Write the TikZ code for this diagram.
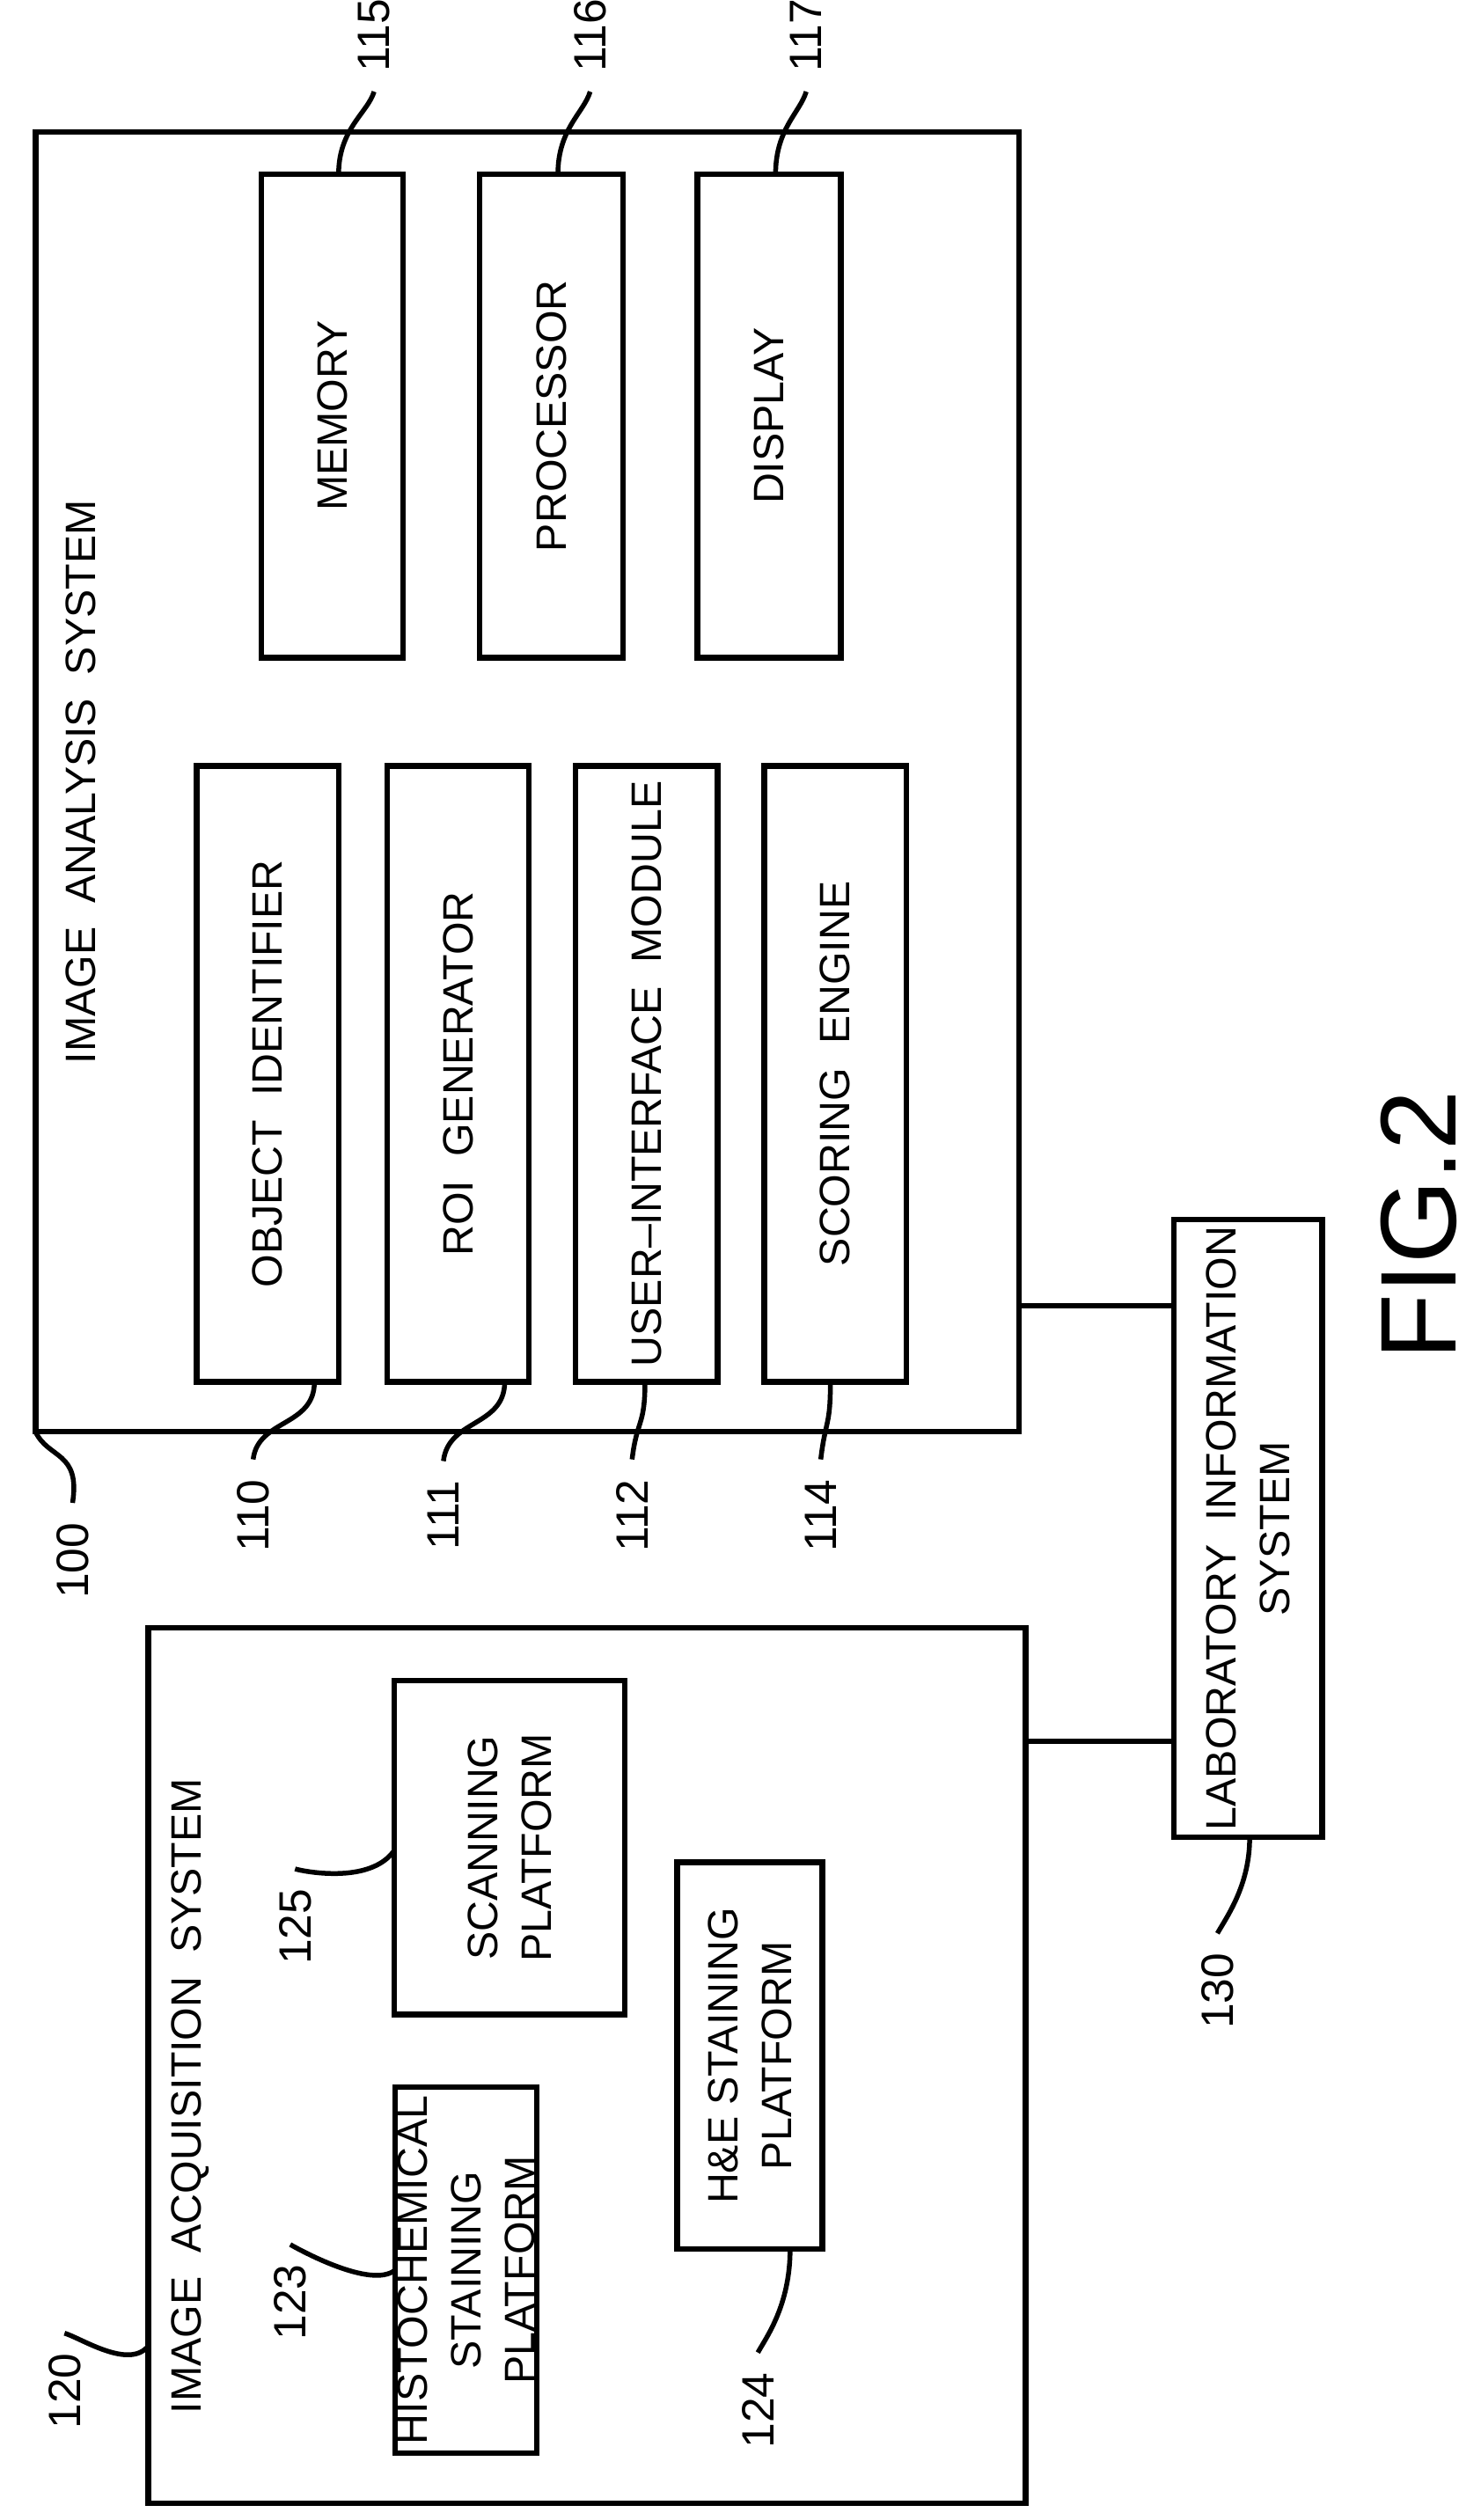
\documentclass[tikz,border=0pt]{standalone}
\usepackage{fontspec}
\setmainfont{Liberation Sans}
\begin{document}
\begin{tikzpicture}[x=0.1mm,y=-0.1mm,
 bx/.style={draw,line width=0.35mm,inner sep=0pt},
 t/.style={rotate=90,font=\fontsize{7.5}{9.5}\selectfont,align=center},
 lb/.style={rotate=90,font=\fontsize{8}{10}\selectfont},
 ld/.style={line width=0.3mm}]
\useasboundingbox (0,0) rectangle (918,1563);
% image analysis system
\node[bx,t,minimum width=80.6mm,minimum height=61mm] (ias) at (327,485) {};
\node[t] at (50,485) {IMAGE\ \ ANALYSIS\ \ SYSTEM};
\node[bx,t,minimum width=30mm,minimum height=8.8mm] (mem) at (206,258) {MEMORY};
\node[bx,t,minimum width=30mm,minimum height=8.9mm] (proc) at (342,258) {PROCESSOR};
\node[bx,t,minimum width=30mm,minimum height=8.9mm] (disp) at (477,258) {DISPLAY};
\node[bx,t,minimum width=38.2mm,minimum height=8.8mm] (obj) at (166,666) {OBJECT\ \ IDENTIFIER};
\node[bx,t,minimum width=38.2mm,minimum height=8.8mm] (roi) at (284,666) {ROI\ \ GENERATOR};
\node[bx,t,minimum width=38.2mm,minimum height=8.8mm] (ui) at (401,666) {USER--INTERFACE\ \ MODULE};
\node[bx,t,minimum width=38.2mm,minimum height=8.8mm] (sc) at (518,666) {SCORING\ \ ENGINE};
% acquisition
\node[bx,t,minimum width=54.3mm,minimum height=54.4mm] (iacq) at (364,1281) {};
\node[t] at (118,1300) {IMAGE\ \ ACQUISITION\ \ SYSTEM};
\node[bx,t,minimum width=22.7mm,minimum height=8.8mm] (hist) at (289,1408) {HISTOCHEMICAL\\STAINING\\PLATFORM};
\node[bx,t,minimum width=20.7mm,minimum height=14.3mm] (scan) at (316,1146) {SCANNING\\PLATFORM};
\node[bx,t,minimum width=24mm,minimum height=9mm] (he) at (465,1275) {H\&E\ STAINING\\PLATFORM};
% LIS
\node[bx,t,minimum width=38.3mm,minimum height=9.2mm] (lis) at (774,948) {LABORATORY\ \ INFORMATION\\SYSTEM};
\coordinate (c1) at (632,810);
\coordinate (c2) at (728,810);
\coordinate (c3) at (636,1080);
\coordinate (c4) at (728,1080);
\draw[ld] (c1) -- (c2);
\draw[ld] (c3) -- (c4);
\node[rotate=90,font=\fontsize{19}{23}\selectfont] at (880,760) {FIG.2};
% reference labels
\node[lb] (l115) at (232,22) {115};
\node[lb] (l116) at (366,22) {116};
\node[lb] (l117) at (500,22) {117};
\draw[ld] (210,108) .. controls (210,80) and (228,70) .. (l115.west);
\draw[ld] (346,108) .. controls (346,80) and (362,70) .. (l116.west);
\draw[ld] (481,108) .. controls (481,80) and (496,70) .. (l117.west);
\node[lb] (l100) at (45,968) {100};
\node[lb] (l110) at (157,940) {110};
\node[lb] (l111) at (275,940) {111};
\node[lb] (l112) at (392,940) {112};
\node[lb] (l114) at (509,940) {114};
\draw[ld] (l100.east) .. controls (50,900) and (30,905) .. (22,888);
\draw[ld] (l110.east) .. controls (160,880) and (195,885) .. (195,857);
\draw[ld] (l111.east) .. controls (278,880) and (313,885) .. (313,857);
\draw[ld] (l112.east) .. controls (395,880) and (400,885) .. (400,857);
\draw[ld] (l114.east) .. controls (512,880) and (515,885) .. (515,857);
\node[lb] (l120) at (40,1483) {120};
\node[lb] (l123) at (180,1428) {123};
\node[lb] (l124) at (470,1495) {124};
\node[lb] (l125) at (183,1195) {125};
\node[lb] (l130) at (755,1235) {130};
\draw[ld] (l120.east) .. controls (50,1450) and (80,1470) .. (92,1455);
\draw[ld] (l123.east) .. controls (185,1395) and (230,1420) .. (245,1408);
\draw[ld] (l124.east) .. controls (475,1450) and (490,1430) .. (490,1395);
\draw[ld] (l125.east) .. controls (185,1160) and (230,1170) .. (245,1147);
\draw[ld] (l130.east) .. controls (760,1190) and (775,1170) .. (775,1140);
\end{tikzpicture}
\end{document}
